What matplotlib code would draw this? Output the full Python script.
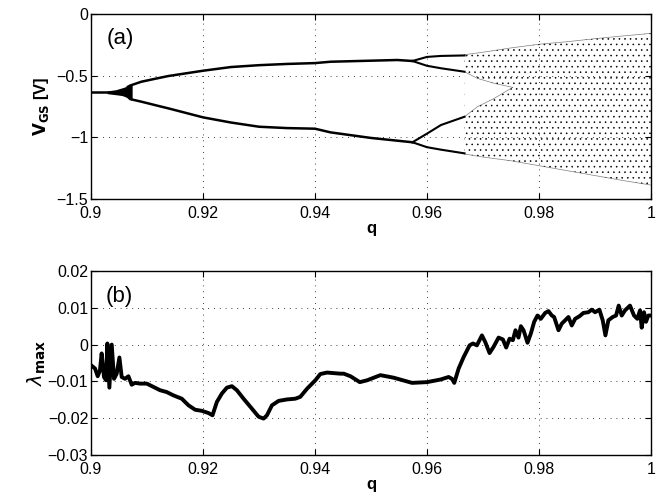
import matplotlib
matplotlib.use("Agg")
import matplotlib.pyplot as plt

plt.rcParams['font.family'] = ['Liberation Sans', 'DejaVu Sans']
plt.rcParams['hatch.linewidth'] = 0.4
plt.rcParams['hatch.color'] = 'k'

# --- panel (a): bifurcation branches ---
# single fixed point before the first split
fix_q = [0.900, 0.9035]
fix_v = [-0.635, -0.635]

# smeared region around the first split
wedge_q = [0.9030, 0.9045, 0.9056, 0.9066, 0.9072]
wedge_hi = [-0.630, -0.620, -0.605, -0.590, -0.580]
wedge_lo = [-0.640, -0.648, -0.655, -0.672, -0.690]

# period-2 branches
p2_q = [0.9066, 0.907, 0.909, 0.912, 0.9138, 0.920, 0.925, 0.930, 0.935, 0.940, 0.9428, 0.9547, 0.9574]
p2_hi = [-0.590, -0.580, -0.549, -0.52, -0.503, -0.46, -0.43, -0.415, -0.405, -0.398, -0.387, -0.373, -0.381]
p2_lo_q = [0.9066, 0.907, 0.909, 0.912, 0.9138, 0.920, 0.925, 0.930, 0.935, 0.940, 0.9428, 0.950, 0.9574]
p2_lo = [-0.672, -0.69, -0.711, -0.745, -0.765, -0.838, -0.88, -0.914, -0.925, -0.93, -0.96, -1.005, -1.04]

# period-4 branches
p4_q = [0.9574, 0.960, 0.9625, 0.9667]
p4_a = [-0.381, -0.348, -0.34, -0.336]
p4_b = [-0.381, -0.42, -0.44, -0.468]
p4_c = [-1.04, -0.97, -0.90, -0.833]
p4_d = [-1.04, -1.08, -1.10, -1.13]

# chaotic region envelope
ch_q = [0.9667, 0.970, 0.975, 0.980, 0.985, 0.990, 0.995, 1.000]
ch_top = [-0.33, -0.31, -0.275, -0.245, -0.225, -0.20, -0.178, -0.157]
ch_bot = [-1.135, -1.16, -1.19, -1.23, -1.27, -1.31, -1.35, -1.387]
# window between the two chaotic bands before they merge
gap_q = [0.9667, 0.969, 0.972, 0.9753]
gap_hi = [-0.468, -0.522, -0.562, -0.595]
gap_lo = [-0.833, -0.752, -0.684, -0.595]

# --- panel (b): largest Lyapunov exponent ---
lam_q = [0.9, 0.90072, 0.9012, 0.9016, 0.9019, 0.90232, 0.90268, 0.90292, 0.90328, 0.9037,
         0.90411, 0.90459, 0.90507, 0.90548, 0.90608, 0.90668, 0.90727, 0.90787, 0.90876, 0.90996,
         0.91115, 0.91234, 0.91353, 0.91472, 0.91621, 0.91741, 0.9186, 0.91979, 0.92098, 0.9217,
         0.92247, 0.92337, 0.92426, 0.92516, 0.92605, 0.92724, 0.92873, 0.92993, 0.93082, 0.93142,
         0.93231, 0.9335, 0.93499, 0.93648, 0.93737, 0.93857, 0.94006, 0.94095, 0.94214, 0.94453,
         0.94514, 0.94633, 0.948, 0.9493, 0.95168, 0.95406, 0.95733, 0.96, 0.96238, 0.96386,
         0.96446, 0.96487, 0.96565, 0.96654, 0.96761, 0.9682, 0.96891, 0.96981, 0.9704, 0.97117,
         0.97189, 0.97278, 0.97355, 0.97414, 0.97474, 0.97533, 0.9758, 0.97634, 0.97676, 0.97724,
         0.97795, 0.97854, 0.97914, 0.97973, 0.98032, 0.9811, 0.98169, 0.98229, 0.9827, 0.98348,
         0.98407, 0.98467, 0.98526, 0.98585, 0.98645, 0.98722, 0.98793, 0.98882, 0.98942, 0.99001,
         0.99078, 0.99138, 0.99186, 0.99239, 0.99316, 0.99376, 0.99423, 0.99477, 0.99536, 0.99625,
         0.99697, 0.99756, 0.99804, 0.99834, 0.99875, 0.99911, 0.99952, 1.0]
lam_v = [-0.0056, -0.0065, -0.0086, -0.007, -0.0024, -0.0088, -0.0097, 0.0003, -0.0117, 0.0,
         -0.0093, -0.0079, -0.0035, -0.0088, -0.0093, -0.0086, -0.0109, -0.0104, -0.0106, -0.0106,
         -0.0115, -0.0124, -0.0129, -0.0138, -0.0147, -0.0165, -0.0177, -0.018, -0.0186, -0.0192,
         -0.0156, -0.0133, -0.0117, -0.0113, -0.0124, -0.0147, -0.0174, -0.0196, -0.0201, -0.0192,
         -0.0165, -0.0153, -0.0149, -0.0147, -0.0142, -0.012, -0.0097, -0.008, -0.0076, -0.0079,
         -0.0079, -0.0086, -0.0102, -0.0097, -0.0083, -0.009, -0.0104, -0.0102, -0.0095, -0.0088,
         -0.0093, -0.0104, -0.0065, -0.0034, -0.0002, 0.0003, -0.0002, 0.0025, 0.0007, -0.0023,
         -0.0006, 0.0019, 0.0014, -0.0008, 0.0016, 0.0012, 0.0039, 0.0019, 0.005, 0.0039,
         0.0005, 0.003, 0.0062, 0.0079, 0.007, 0.0086, 0.0091, 0.0079, 0.0075, 0.0039,
         0.0057, 0.0066, 0.0075, 0.0052, 0.007, 0.0077, 0.0086, 0.0088, 0.0095, 0.0088,
         0.0095, 0.0066, 0.0025, 0.0066, 0.0075, 0.0079, 0.0106, 0.0079, 0.0093, 0.0106,
         0.0079, 0.007, 0.0093, 0.0046, 0.0088, 0.0062, 0.0079, 0.0079]

xticks = [0.9, 0.92, 0.94, 0.96, 0.98, 1.0]
xticklabels = ['0.9', '0.92', '0.94', '0.96', '0.98', '1']
yticks_a = [0, -0.5, -1, -1.5]
yticklabels_a = ['0', '\u22120.5', '\u22121', '\u22121.5']
yticks_b = [0.02, 0.01, 0, -0.01, -0.02, -0.03]
yticklabels_b = ['0.02', '0.01', '0', '\u22120.01', '\u22120.02', '\u22120.03']

fig = plt.figure(figsize=(6.65, 5.03), dpi=100)
ax1 = fig.add_axes([91/665, 1 - 199/503, 560/665, 185/503])
ax2 = fig.add_axes([91/665, 1 - 455/503, 560/665, 184/503])


def style(ax):
    ax.set_xlim(0.9, 1.0)
    ax.set_xticks(xticks)
    ax.set_xticklabels(xticklabels)
    ax.tick_params(direction='in', top=True, right=True, length=4, width=0.8, labelsize=11.5)
    ax.tick_params(axis='x', pad=5)
    ax.tick_params(axis='y', pad=2)
    ax.grid(True, color='k', linestyle=(0, (1, 6)), linewidth=0.6)
    ax.set_axisbelow(True)
    for s in ax.spines.values():
        s.set_linewidth(1.0)
    ax.set_xlabel('q', fontsize=12, fontweight='bold', labelpad=0)


# panel (a)
lw = 1.8
ax1.plot(fix_q, fix_v, color='k', lw=lw)
ax1.fill_between(wedge_q, wedge_lo, wedge_hi, color='k', lw=1.2)
ax1.plot(p2_q, p2_hi, color='k', lw=lw)
ax1.plot(p2_lo_q, p2_lo, color='k', lw=lw)
for br in (p4_a, p4_b, p4_c, p4_d):
    ax1.plot(p4_q, br, color='k', lw=1.5)
ax1.fill_between(ch_q, ch_bot, ch_top, facecolor='none', edgecolor='k', hatch='...', lw=0)
ax1.fill_between(gap_q, gap_lo, gap_hi, facecolor='white', edgecolor='none', lw=0)
ax1.plot(ch_q, ch_top, color='k', lw=0.5, alpha=0.5)
ax1.plot(ch_q, ch_bot, color='k', lw=0.5, alpha=0.5)
ax1.plot(gap_q, gap_hi, color='k', lw=0.5, alpha=0.5)
ax1.plot(gap_q, gap_lo, color='k', lw=0.5, alpha=0.5)
style(ax1)
ax1.set_ylim(-1.5, 0)
ax1.set_yticks(yticks_a)
ax1.set_yticklabels(yticklabels_a)
ax1.set_ylabel(r'$\mathbf{V_{GS}}$ [V]', fontsize=12, fontweight='bold', labelpad=4)
ax1.text(0.9028, -0.2, '(a)', fontsize=16, va='center', ha='left')

# panel (b)
ax2.plot(lam_q, lam_v, color='k', lw=2.8)
style(ax2)
ax2.set_ylim(-0.03, 0.02)
ax2.set_yticks(yticks_b)
ax2.set_yticklabels(yticklabels_b)
ax2.set_ylabel(r'$\lambda_{\mathbf{max}}$', fontsize=14, labelpad=0)
ax2.text(0.9026, 0.013, '(b)', fontsize=16, va='center', ha='left')

fig.savefig('out.png', dpi=100)
